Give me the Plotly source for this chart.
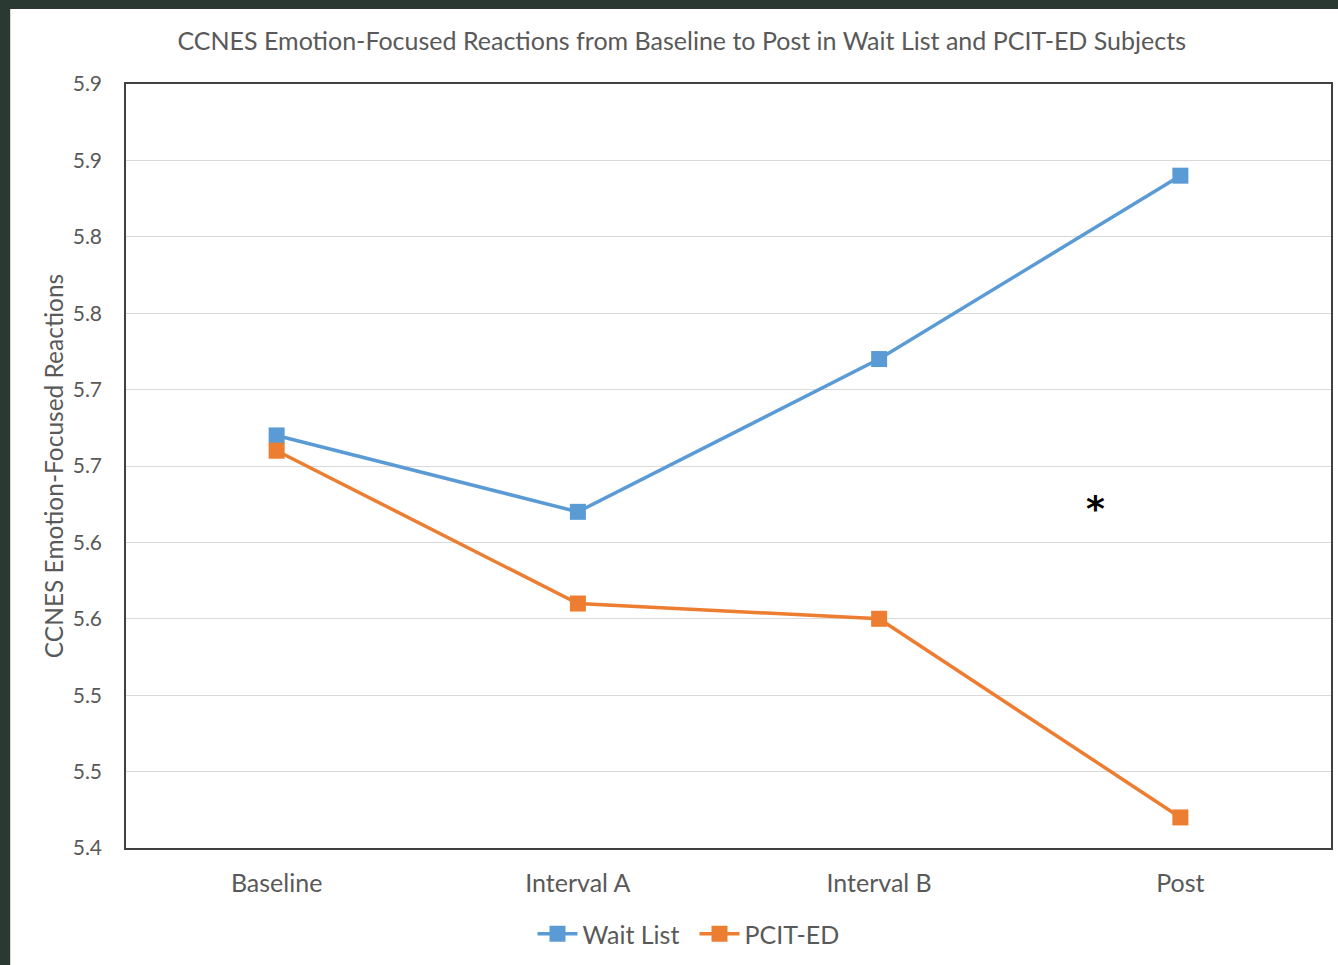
import plotly.graph_objects as go

categories = ["Baseline", "Interval A", "Interval B", "Post"]
wait_list = [5.67, 5.62, 5.72, 5.84]
pcit_ed = [5.66, 5.56, 5.55, 5.42]
y_tickvals = [5.40, 5.45, 5.50, 5.55, 5.60, 5.65, 5.70, 5.75, 5.80, 5.85, 5.90]
y_ticktext = ["5.4", "5.5", "5.5", "5.6", "5.6", "5.7", "5.7", "5.8", "5.8", "5.9", "5.9"]

FONT = "Lato"
GREY = "#595959"

fig = go.Figure()
fig.add_trace(go.Scatter(
    x=categories, y=wait_list, name="Wait List", mode="lines+markers",
    line=dict(color="#5b9bd5", width=3.5),
    marker=dict(symbol="square", size=16, color="#5b9bd5"),
))
fig.add_trace(go.Scatter(
    x=categories, y=pcit_ed, name="PCIT-ED", mode="lines+markers",
    line=dict(color="#ed7d31", width=3.5),
    marker=dict(symbol="square", size=16, color="#ed7d31"),
))

# white page over dark frame
fig.add_shape(type="rect", xref="paper", yref="paper",
              x0=-0.0961, x1=1.02, y0=-0.2, y1=1.0982,
              fillcolor="white", line=dict(width=0), layer="below")

fig.add_annotation(text="<b>*</b>", xref="paper", yref="paper",
                   x=0.8145, y=0.445, showarrow=False,
                   font=dict(size=36, color="black", family="DejaVu Sans"))

fig.update_layout(
    width=1338, height=965,
    margin=dict(l=126, r=5, t=84, b=117),
    paper_bgcolor="#2a3a33",
    plot_bgcolor="white",
    title=dict(text="CCNES Emotion-Focused Reactions from Baseline to Post in Wait List and PCIT-ED Subjects",
               x=0.5095, xanchor="center", y=0.9575, yanchor="middle",
               font=dict(family=FONT, size=25, color=GREY)),
    font=dict(family=FONT, color=GREY),
    showlegend=True,
    legend=dict(orientation="h", x=0.4718, xanchor="center", y=-0.1126, yanchor="middle",
                font=dict(size=25, color=GREY), bgcolor="rgba(0,0,0,0)",
                itemwidth=40, tracegroupgap=0, entrywidth=107, entrywidthmode="pixels"),
)
fig.update_xaxes(
    type="category", range=[-0.5, 3.5],
    showline=True, mirror=True, linecolor="#404040", linewidth=1.5,
    showgrid=False, ticks="outside", ticklen=12, tickcolor="rgba(0,0,0,0)",
    tickfont=dict(size=25, color=GREY, family=FONT),
)
fig.update_yaxes(
    range=[5.40, 5.90], tickvals=y_tickvals, ticktext=y_ticktext,
    showline=True, mirror=True, linecolor="#404040", linewidth=1.5,
    showgrid=True, gridcolor="#d9d9d9", gridwidth=1,
    ticks="outside", ticklen=18, tickcolor="rgba(0,0,0,0)",
    tickfont=dict(size=21, color=GREY, family=FONT),
    title=dict(text="CCNES Emotion-Focused Reactions", standoff=2,
               font=dict(size=24.5, color=GREY, family=FONT)),
    zeroline=False,
)

fig.write_html("out.html", config={"displayModeBar": False},
               post_script="document.body.style.margin='0';document.body.style.overflow='hidden';")
